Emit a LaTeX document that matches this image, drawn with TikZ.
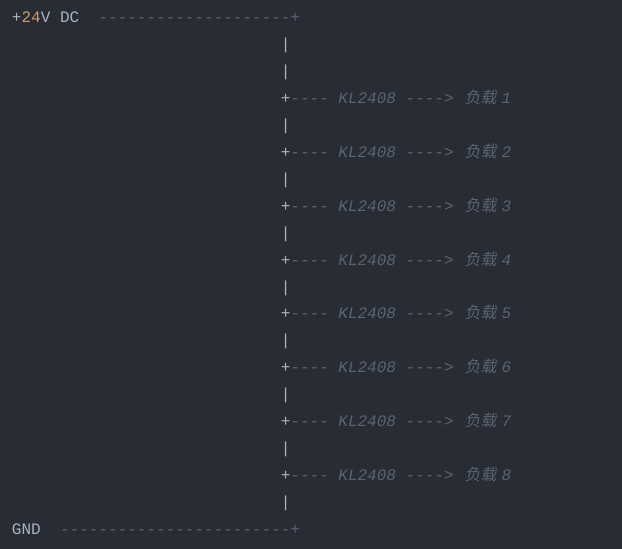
\documentclass[tikz,border=0pt]{standalone}
\usepackage{fontspec}
\setmonofont{Liberation Mono}
\newfontfamily\cjkit[FakeSlant=0.2]{Noto Sans CJK SC}
\definecolor{bg}{HTML}{282C34}
\definecolor{fg}{HTML}{ABB2BF}
\definecolor{num}{HTML}{D19A66}
\definecolor{cmt}{HTML}{5C6370}
\begin{document}
\begin{tikzpicture}[x=1pt,y=1pt,
  txt/.style={anchor=base west, inner sep=0pt, outer sep=0pt, text=fg,
    font=\ttfamily\fontsize{16}{16}\selectfont},
  cmtxt/.style={txt, text=cmt, font=\ttfamily\itshape\fontsize{16}{16}\selectfont},
  cjtxt/.style={txt, text=cmt, font=\cjkit\fontsize{16}{16}\selectfont}]
\fill[bg] (0,0) rectangle (622,-549);
\useasboundingbox (0,0) rectangle (622,-549);
% row r: baseline y = -(22.5+26.95 r); col c: x = 12 + 9.6 c
\node[txt] (vdc) at (12,-22.5) {+\textcolor{num}{24}V DC};
\node[cmtxt] (topline) at ({12+9.6*9},-22.5) {--------------------+};
\foreach \r [count=\i] in {1,2,4,6,8,10,12,14,16,18}{
  \node[txt] (bar\i) at ({12+9.6*28},{-(22.5+26.95*\r)}) {|};
}
\foreach \k in {1,...,8}{
  \pgfmathsetmacro{\yy}{-(22.5+26.95*(2*\k+1))}
  \node[txt] (plus\k) at ({12+9.6*28},\yy) {+};
  \node[cmtxt] (br\k) at ({12+9.6*29},\yy) {---- KL2408 ---->};
  \node[cjtxt] (load\k) at ({12+9.6*47+1.5},\yy) {负载};
  \node[cmtxt] (num\k) at ({12+9.6*51},\yy) {\k};
}
\node[txt] (gnd) at (12,{-(22.5+26.95*19)}) {GND};
\node[cmtxt] (gndline) at ({12+9.6*5},{-(22.5+26.95*19)}) {------------------------+};
\end{tikzpicture}
\end{document}
